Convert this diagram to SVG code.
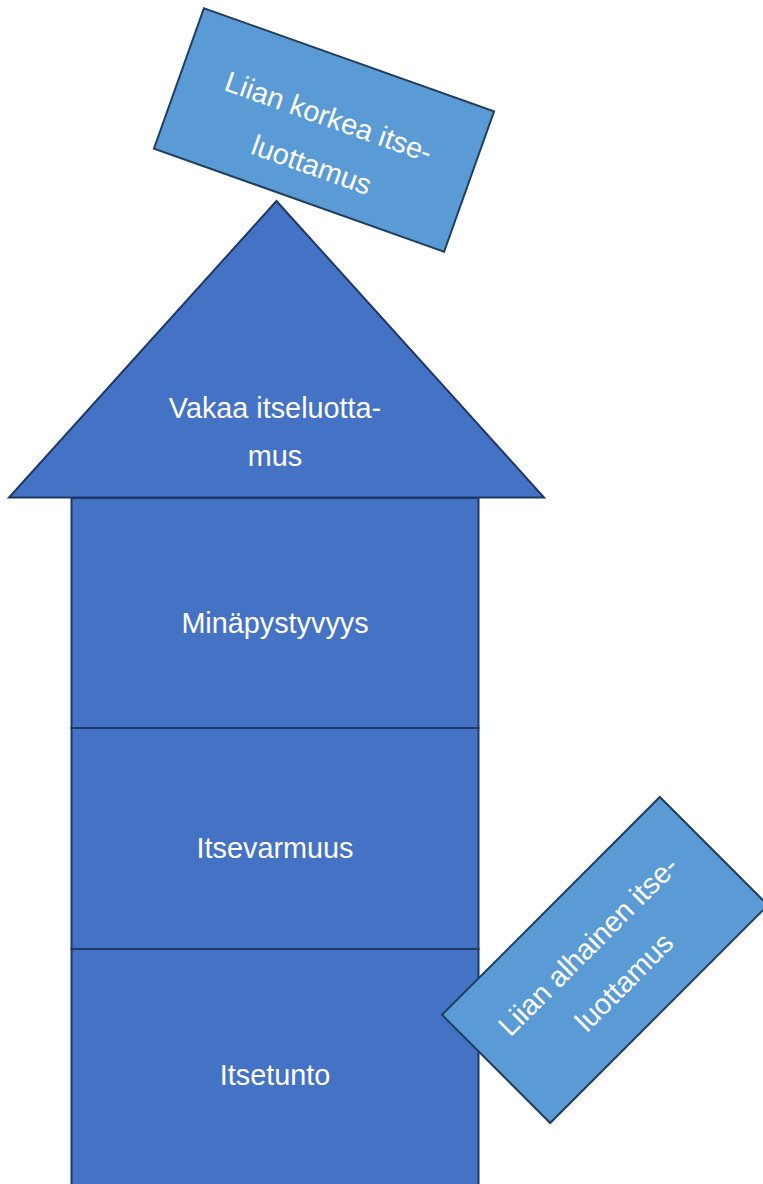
<svg xmlns="http://www.w3.org/2000/svg" width="763" height="1184" viewBox="0 0 763 1184">
  <style>
    .dark { fill: #4472C4; stroke: #1F3864; stroke-width: 2; stroke-linejoin: miter; }
    .light { fill: #5B9BD5; stroke: #203F5E; stroke-width: 2; }
    .lbl { font-family: "Liberation Sans", Arial, sans-serif; font-size: 28.8px; fill: #FFFFFF; text-anchor: middle; }
  </style>
  <rect width="763" height="1184" fill="#FFFFFF"/>
  <g id="connectors"></g>
  <g id="itsetunto">
    <rect class="dark" x="71.5" y="949" width="407" height="245"/>
    <text class="lbl" x="275" y="1085">Itsetunto</text>
  </g>
  <g id="itsevarmuus">
    <rect class="dark" x="71.5" y="728" width="407" height="221"/>
    <text class="lbl" x="275" y="858">Itsevarmuus</text>
  </g>
  <g id="minapystyvyys">
    <rect class="dark" x="71.5" y="498" width="407" height="230"/>
    <text class="lbl" x="275" y="633">Minäpystyvyys</text>
  </g>
  <g id="vakaa">
    <polygon class="dark" points="276.5,201 9,497.5 544,497.5"/>
    <text class="lbl" x="275" y="418">Vakaa itseluotta-</text>
    <text class="lbl" x="275" y="466">mus</text>
  </g>
  <g id="liian-korkea" transform="translate(324,130) rotate(19.6)">
    <rect class="light" x="-154" y="-74.5" width="308" height="149"/>
    <text class="lbl" x="0" y="-4">Liian korkea itse-</text>
    <text class="lbl" x="0" y="47">luottamus</text>
  </g>
  <g id="liian-alhainen" transform="translate(605,960) rotate(-45)">
    <rect class="light" x="-154" y="-76.5" width="308" height="153"/>
    <text class="lbl" x="-2" y="-12">Liian alhainen itse-</text>
    <text class="lbl" x="-2" y="39">luottamus</text>
  </g>
</svg>
